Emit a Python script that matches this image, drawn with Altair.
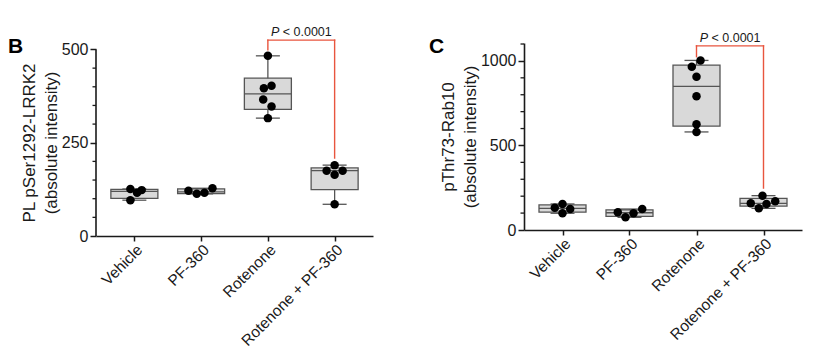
import altair as alt
import pandas as pd
import numpy as np

categories = ["Vehicle", "PF-360", "Rotenone", "Rotenone + PF-360"]

# ---- Panel B: PL pSer1292-LRRK2 ----
b_vehicle = [126, 96, 116, 123]
b_pf360 = [121, 113, 116, 128]
b_rotenone = [483, 396, 403, 366, 347, 316]
b_rot_pf = [190, 175, 175, 164, 85]
# horizontal scatter of the dots (fraction of one category step)
b_vehicle_jit = [-0.06, -0.06, 0.04, 0.11]
b_pf360_jit = [-0.19, -0.065, 0.05, 0.17]
b_rotenone_jit = [0.0, -0.06, 0.055, -0.07, 0.055, 0.0]
b_rot_pf_jit = [0.0, -0.12, 0.12, 0.0, 0.0]
b_major = [0, 250, 500]
b_minor = [50, 100, 150, 200, 300, 350, 400, 450]
b_bracket = [525, 499, 209]   # top, left foot, right foot
b_ptext_y = 536

# ---- Panel C: pThr73-Rab10 ----
c_vehicle = [132, 154, 124, 99]
c_pf360 = [105, 75, 99, 124]
c_rotenone = [1003, 966, 907, 791, 626, 580]
c_rot_pf = [203, 158, 154, 170, 128]
c_vehicle_jit = [-0.115, 0.0, 0.115, 0.0]
c_pf360_jit = [-0.175, -0.06, 0.06, 0.19]
c_rotenone_jit = [0.06, -0.07, 0.0, 0.0, 0.0, 0.0]
c_rot_pf_jit = [-0.015, -0.19, 0.045, 0.175, -0.07]
c_major = [0, 500, 1000]
c_minor = [100, 200, 300, 400, 600, 700, 800, 900, 1100]
c_bracket = [1089, 1025, 248]
c_ptext_y = 1114

panel_letters = ["B", "C"]
y_titles = [["PL pSer1292-LRRK2", "(absolute intensity)"],
            ["pThr73-Rab10", "(absolute intensity)"]]

FONT = "Liberation Sans"
INK = "#1a1a1a"
BOXSTROKE = "#555555"
RED = "#e8553e"

label_expr = "[" + ",".join("'%s'" % c for c in categories) + "][datum.value]"


def make_panel(groups, jits, ydom, major, minor, bracket, ptext_y, letter,
               title, width, height, draw_axis_rule, title_y=None):
    pts = pd.DataFrame({
        "pos": [i + j for i, (g, jj) in enumerate(zip(groups, jits)) for j in jj],
        "value": [v for g in groups for v in g],
    })
    stats = pd.DataFrame({
        "pos": list(range(len(groups))),
        "q1": [np.quantile(g, 0.25, method="weibull") for g in groups],
        "med": [np.quantile(g, 0.5, method="weibull") for g in groups],
        "q3": [np.quantile(g, 0.75, method="weibull") for g in groups],
        "lo": [min(g) for g in groups],
        "hi": [max(g) for g in groups],
    })
    brk = pd.DataFrame({
        "pos": [2, 2, 3], "pos2": [3, 2, 3],
        "y1": [bracket[0], bracket[1], bracket[2]],
        "y2": [bracket[0], bracket[0], bracket[0]],
    })
    ptxt = pd.DataFrame({"pos": [2.5], "y": [ptext_y]})
    minor_df = pd.DataFrame({"tick": minor})
    letter_df = pd.DataFrame({"label": [letter]})
    axis_df = pd.DataFrame({"y0": [0], "y1": [major[-1]]})

    xs = alt.Scale(domain=[-0.5, len(groups) - 0.5], nice=False, zero=False)
    x_axis = alt.Axis(values=list(range(len(groups))), labelExpr=label_expr,
                      labelAngle=-45, labelAlign="right", labelBaseline="top",
                      labelFontSize=15.5, labelPadding=1, tickSize=5,
                      title=None, grid=False)
    ys = alt.Scale(domain=ydom, nice=False, zero=False)
    axkw = dict(values=major, format="d", title=title, grid=False, tickSize=6,
                labelFontSize=16, labelPadding=2, titleFontSize=17,
                titleFontWeight="normal", titleLineHeight=22, titlePadding=1,
                domain=not draw_axis_rule)
    if title_y is not None:
        axkw["titleY"] = title_y
    y_axis = alt.Axis(**axkw)

    def X(f):
        return alt.X(f, type="quantitative", scale=xs, axis=x_axis)

    def Y(f):
        return alt.Y(f, type="quantitative", scale=ys, axis=y_axis)

    whisk = alt.Chart(stats).mark_rule(color=BOXSTROKE, strokeWidth=1.3).encode(
        x=X("pos"), y=Y("lo"), y2="hi")
    box = alt.Chart(stats).mark_bar(size=47, fill="#d9d9d9", stroke=BOXSTROKE,
                                    strokeWidth=1.3).encode(
        x=X("pos"), y=Y("q1"), y2="q3")
    med = alt.Chart(stats).mark_tick(orient="horizontal", size=47, thickness=1.3,
                                     color=BOXSTROKE, opacity=1).encode(
        x=X("pos"), y=Y("med"))
    cap_lo = alt.Chart(stats).mark_tick(orient="horizontal", size=24, thickness=1.3,
                                        color=BOXSTROKE, opacity=1).encode(
        x=X("pos"), y=Y("lo"))
    cap_hi = alt.Chart(stats).mark_tick(orient="horizontal", size=24, thickness=1.3,
                                        color=BOXSTROKE, opacity=1).encode(
        x=X("pos"), y=Y("hi"))
    dots = alt.Chart(pts).mark_circle(size=72, color="#000000", opacity=1).encode(
        x=X("pos"), y=Y("value"))
    brk_l = alt.Chart(brk).mark_rule(color=RED, strokeWidth=1.4, strokeCap="square").encode(
        x=X("pos"), x2="pos2", y=Y("y1"), y2="y2")
    p_it = alt.Chart(ptxt).mark_text(text="P", font=FONT, fontStyle="italic",
                                     fontSize=12.5, align="right", baseline="alphabetic",
                                     dx=-22, color=INK).encode(x=X("pos"), y=Y("y"))
    p_rest = alt.Chart(ptxt).mark_text(text="< 0.0001", font=FONT, fontSize=12.5,
                                       align="left", baseline="alphabetic",
                                       dx=-18.5, color=INK).encode(x=X("pos"), y=Y("y"))
    minors = alt.Chart(minor_df).mark_rule(color=INK, strokeWidth=1.3).encode(
        x=alt.value(-3.5), x2=alt.value(0), y=Y("tick"))
    lett = alt.Chart(letter_df).mark_text(font=FONT, fontSize=21, fontWeight="bold",
                                          align="left", baseline="alphabetic",
                                          color="#000000").encode(
        x=alt.value(-88 if letter == "B" else -95), y=alt.value(10), text="label:N")

    layers = [whisk, box, med, cap_lo, cap_hi, dots, brk_l, p_it, p_rest, minors, lett]
    if draw_axis_rule:
        axr = alt.Chart(axis_df).mark_rule(color=INK, strokeWidth=1.6).encode(
            x=alt.value(0), y=Y("y0"), y2="y1")
        layers.append(axr)
    return alt.layer(*layers).properties(width=width, height=height)


panel_b = make_panel([b_vehicle, b_pf360, b_rotenone, b_rot_pf],
                     [b_vehicle_jit, b_pf360_jit, b_rotenone_jit, b_rot_pf_jit],
                     [0, 517.4], b_major, b_minor, b_bracket, b_ptext_y,
                     panel_letters[0], y_titles[0], 277, 193, True, title_y=99.5)
panel_c = make_panel([c_vehicle, c_pf360, c_rotenone, c_rot_pf],
                     [c_vehicle_jit, c_pf360_jit, c_rotenone_jit, c_rot_pf_jit],
                     [0, 1106], c_major, c_minor, c_bracket, c_ptext_y,
                     panel_letters[1], y_titles[1], 278, 187, False)

chart = alt.hconcat(panel_b, panel_c, spacing=56).properties(
    padding={"left": 8, "top": 26, "right": 10, "bottom": 5}
).configure_view(stroke=None).configure_axis(
    labelFont=FONT, titleFont=FONT, labelColor=INK, titleColor=INK,
    domainColor=INK, tickColor=INK, domainWidth=1.6, tickWidth=1.5,
    labelFlush=False, labelOverlap=False
)

chart.save("out.html", embed_options={"renderer": "svg", "actions": False})
